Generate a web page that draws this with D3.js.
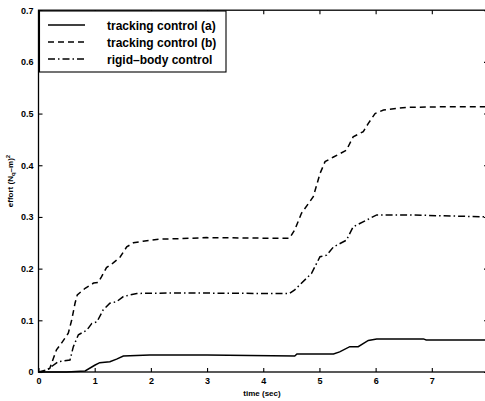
<!DOCTYPE html>
<html><head><meta charset="utf-8">
<script src="https://cdn.jsdelivr.net/npm/d3@7"></script>
<style>body{margin:0;background:#fff}svg{display:block}</style>
</head><body>
<svg id="c" width="485" height="401"></svg>
<script>
const seriesNames = ["tracking control (a)", "tracking control (b)", "rigid\u2013body control"];
const xTicks = [0,1,2,3,4,5,6,7,8];
const xTickLabels = ["0","1","2","3","4","5","6","7",""];
const yTicks = [0,0.1,0.2,0.3,0.4,0.5,0.6,0.7];
const yTickLabels = ["0","0.1","0.2","0.3","0.4","0.5","0.6","0.7"];

const tA = [0,0.5,0.83,1.0,1.09,1.27,1.39,1.51,1.98,3.0,3.76,4.56,4.6,5.25,5.36,5.54,5.69,5.87,6.02,6.85,6.9,8];
const yA = [0,0,0.002,0.013,0.018,0.020,0.025,0.031,0.033,0.033,0.032,0.031,0.035,0.035,0.039,0.049,0.049,0.061,0.064,0.064,0.062,0.062];

const tB = [0,0.1,0.20,0.32,0.41,0.53,0.59,0.65,0.69,0.83,0.98,1.06,1.12,1.21,1.33,1.45,1.57,1.69,1.86,2.16,2.52,2.99,3.94,4.47,4.56,4.68,4.89,5.01,5.10,5.25,5.48,5.60,5.78,5.87,5.99,6.14,6.55,7.14,8];
const yB = [0,0.001,0.007,0.043,0.056,0.075,0.10,0.133,0.149,0.162,0.172,0.173,0.184,0.202,0.211,0.222,0.242,0.250,0.253,0.257,0.258,0.260,0.259,0.259,0.275,0.307,0.339,0.384,0.407,0.416,0.429,0.455,0.465,0.481,0.500,0.507,0.512,0.513,0.513];

const tC = [0,0.15,0.35,0.56,0.62,0.71,0.86,0.95,1.04,1.15,1.27,1.39,1.51,1.75,2.5,3.94,4.47,4.56,4.86,5.01,5.13,5.25,5.48,5.60,5.84,6.02,6.55,8];
const yC = [0,0.004,0.020,0.023,0.049,0.072,0.081,0.094,0.097,0.12,0.133,0.136,0.146,0.152,0.153,0.152,0.152,0.159,0.191,0.223,0.226,0.242,0.255,0.281,0.294,0.304,0.304,0.300];

const dashes = [null, "6,4", "7,3,1.5,3"];
const series = [[tA,yA],[tB,yB],[tC,yC]];

const svg = d3.select("#c");
const x = d3.scaleLinear().domain([0,8]).range([38.5,488]);
const y = d3.scaleLinear().domain([0,0.7]).range([372,10.2]);
const font = "'Liberation Sans', Arial, Helvetica, sans-serif";

// box
svg.append("rect").attr("x",x(0)).attr("y",y(0.7)).attr("width",x(8)-x(0)).attr("height",y(0)-y(0.7))
  .attr("fill","none").attr("stroke","#000").attr("stroke-width",1.3);

function styleAxis(g){
  g.select(".domain").remove();
  g.selectAll(".tick line").attr("stroke","#000").attr("stroke-width",1.1);
  g.selectAll(".tick text").attr("fill","#000").style("font-family",font).style("font-weight","bold").style("font-size","9px");
}
svg.append("g").attr("transform",`translate(0,${y(0)})`)
  .call(d3.axisBottom(x).tickValues(xTicks).tickFormat((d,i)=>xTickLabels[i]).tickSizeInner(-4).tickSizeOuter(0).tickPadding(6))
  .call(styleAxis);
svg.append("g").attr("transform",`translate(0,${y(0.7)})`)
  .call(d3.axisTop(x).tickValues(xTicks).tickFormat("").tickSizeInner(-4).tickSizeOuter(0))
  .call(styleAxis);
svg.append("g").attr("transform",`translate(${x(0)},0)`)
  .call(d3.axisLeft(y).tickValues(yTicks).tickFormat((d,i)=>yTickLabels[i]).tickSizeInner(-4).tickSizeOuter(0).tickPadding(5))
  .call(styleAxis);
svg.append("g").attr("transform",`translate(${x(8)},0)`)
  .call(d3.axisRight(y).tickValues(yTicks).tickFormat("").tickSizeInner(-4).tickSizeOuter(0))
  .call(styleAxis);

// lines
const line = d3.line().x(d=>x(d[0])).y(d=>y(d[1]));
series.forEach((s,i)=>{
  const pts = s[0].map((t,j)=>[t,s[1][j]]);
  svg.append("path").datum(pts).attr("d",line).attr("fill","none").attr("stroke","#000")
    .attr("stroke-width",1.5).attr("stroke-dasharray",dashes[i]);
});

// axis labels
svg.append("text").attr("x",262).attr("y",396).attr("text-anchor","middle")
  .style("font-family",font).style("font-weight","bold").style("font-size","8px").text("time (sec)");
const yl = svg.append("text").attr("transform","translate(13,181) rotate(-90)").attr("text-anchor","middle")
  .style("font-family",font).style("font-weight","bold").style("font-size","8px");
yl.append("tspan").text("effort (N");
yl.append("tspan").attr("dy",2).style("font-size","6px").text("q");
yl.append("tspan").attr("dy",-2).text("\u2013m)");
yl.append("tspan").attr("dy",-3).style("font-size","6px").text("2");

// legend
const lg = svg.append("g");
lg.append("rect").attr("x",39.5).attr("y",11).attr("width",186.5).attr("height",61)
  .attr("fill","#fff").attr("stroke","#000").attr("stroke-width",1.1);
const rowsY = [25,42,59];
seriesNames.forEach((nm,i)=>{
  lg.append("line").attr("x1",48).attr("x2",85).attr("y1",rowsY[i]).attr("y2",rowsY[i])
    .attr("stroke","#000").attr("stroke-width",1.5).attr("stroke-dasharray",dashes[i]);
  lg.append("text").attr("x",107).attr("y",rowsY[i]+5).style("font-family",font)
    .style("font-weight","bold").style("font-size","12px").attr("fill","#000").text(nm);
});
</script>
</body></html>
